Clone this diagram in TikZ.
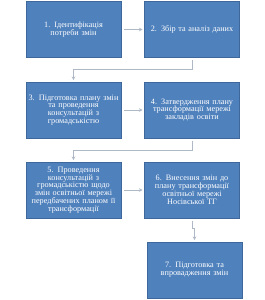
\documentclass[tikz,border=0pt]{standalone}
\usepackage{fontspec}
\setmainfont{Liberation Serif}
\usepackage{tikz}
\usetikzlibrary{arrows.meta, positioning}
\definecolor{boxblue}{RGB}{79, 129, 189}
\definecolor{boxedge}{RGB}{62, 104, 155}
\definecolor{linegray}{RGB}{175, 185, 198}

\tikzset{
    stagebox/.style={draw=boxedge, fill=boxblue, text=white, line width=0.4pt,
        minimum width=2.85cm, minimum height=1.68cm, text width=2.8cm,
        align=center, inner sep=0.5pt, font=\fontsize{7}{6.7}\selectfont},
    link/.style={draw=linegray, line width=0.5pt, -{Stealth[length=3pt, width=3pt]},
        shorten <=2pt, shorten >=1.5pt}
}

\begin{document}
\begin{tikzpicture}[x=0.03cm, y=-0.03cm]
            \useasboundingbox (0,0) rectangle (265,300);
            % stages of the procedure
            \node[stagebox] (idn) at (73.5, 29.5) {1. Ідентифікація\\потреби змін};
            \node[stagebox] (data) at (192, 29.5) {2. Збір та аналіз даних};
            \node[stagebox] (plan) at (73.5, 110) {3. Підготовка плану змін\\та проведення\\консультацій з\\громадськістю};
            \node[stagebox] (appr) at (192, 110) {4. Затвердження плану\\трансформації мережі\\закладів освіти};
            \node[stagebox] (cons) at (73.5, 190) {5. Проведення\\консультацій з\\громадськістю щодо\\змін освітньої мережі\\передбачених планом її\\трансформації};
            \node[stagebox] (amend) at (192, 190) {6. Внесення змін до\\плану трансформації\\освітньої мережі\\Носівської ТГ};
            \node[stagebox] (impl) at (194.5, 270) {7. Підготовка та\\впровадження змін};
            % connectors
            \coordinate (turnA) at (192, 69);
            \coordinate (turnB) at (192, 150);
            \coordinate (turnC) at (192, 228);
            \foreach \a/\b in {idn/data, plan/appr, cons/amend} {
                \draw[link] (\a) -- (\b);
            }
            \draw[link] (data.south) -- (turnA) -| (plan.north);
            \draw[link] (appr.south) -- (turnB) -| (cons.north);
            \draw[link] (amend.south) -- (turnC) -| (impl.north);
        \end{tikzpicture}
\end{document}
